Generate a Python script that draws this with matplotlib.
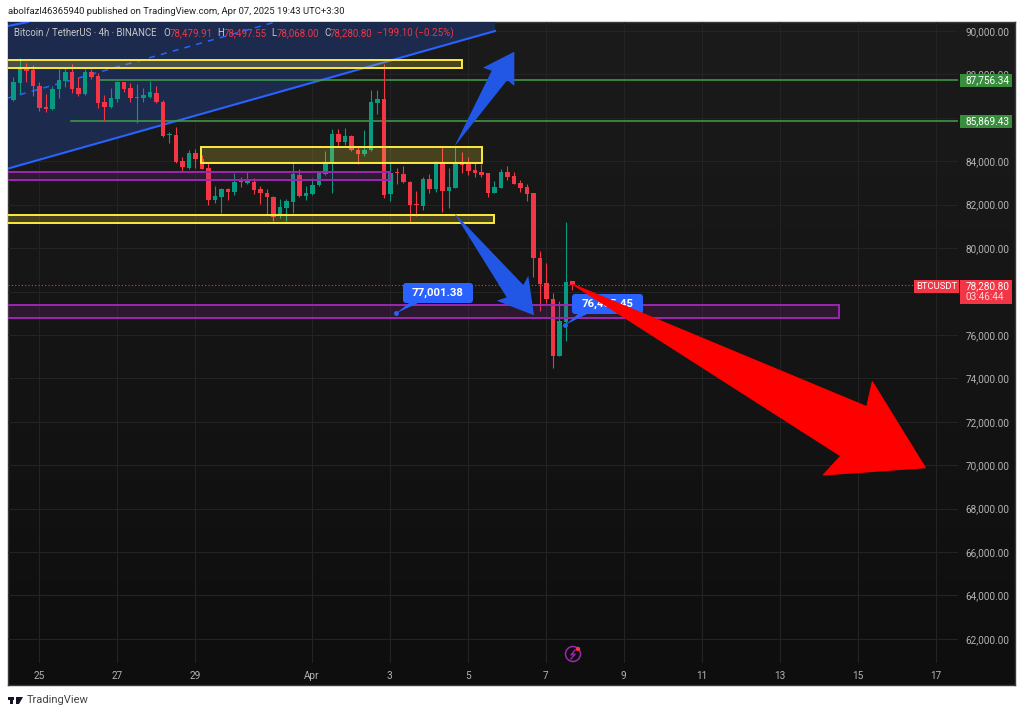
import numpy as np
import matplotlib
matplotlib.use("Agg")
import matplotlib.pyplot as plt
from matplotlib.patches import Rectangle, Polygon, FancyBboxPatch, Circle
from matplotlib.transforms import Affine2D

# 4h candles
opens = [86823, 87621, 88327, 88205, 87483, 86485, 86393, 87314, 87683, 88112, 87376, 87084,
         88112, 87928, 86716, 86501, 86854, 87636, 87376, 86915, 86900, 86976, 87161, 86746,
         85196, 85211, 84014, 83707, 84382, 84121, 83692, 82218, 82341, 82740, 82587, 83093,
         83001, 83032, 82709, 82525, 82371, 81496, 81864, 82141, 83369, 82402, 82494, 82893,
         83399, 83906, 85257, 84904, 85149, 84520, 84351, 84520, 86700, 86853, 82478, 83507,
         83415, 83062, 82033, 81956, 83169, 82739, 83983, 82647, 82770, 83983, 83875, 83599,
         83507, 83446, 82555, 82785, 83507, 83322, 83000, 82831, 82524, 79561, 78394, 77657,
         75033, 76614, 78479.91]
highs = [87897, 88772, 88512, 88435, 87667, 87099, 87483, 88235, 88281, 88481, 87867, 88235,
         88235, 88051, 87053, 87360, 87713, 87667, 87590, 87544, 87391, 87713, 87468, 86823,
         85365, 85564, 84183, 84520, 84551, 84290, 83906, 82863, 82755, 82786, 83477, 83262,
         83492, 83231, 82878, 82740, 82417, 82263, 82263, 83906, 83645, 82862, 83215, 83568,
         84474, 85487, 85472, 85548, 85211, 84704, 85441, 87283, 87283, 88465, 83983, 83706,
         83783, 83092, 82632, 83292, 83399, 84014, 84704, 83676, 84674, 84413, 84213, 83906,
         83860, 83476, 83092, 83630, 83798, 83492, 83139, 82954, 82524, 79868, 79300, 77949,
         77565, 81188, 78497.55]
lows = [86777, 87099, 87652, 87007, 86316, 86286, 86363, 86900, 87437, 87130, 87007, 87038,
        87775, 86439, 85856, 86439, 86746, 87207, 86746, 85779, 86746, 86900, 86670, 85135,
        84828, 83906, 83553, 83661, 83676, 83630, 81972, 82065, 81635, 82218, 82448, 82832,
        82955, 82494, 82018, 81527, 81250, 81373, 81250, 81634, 82371, 82218, 82448, 82862,
        83369, 82525, 84704, 84750, 84474, 83875, 84244, 84474, 86178, 82325, 82171, 82954,
        82985, 81174, 81496, 81757, 82555, 82601, 81650, 81834, 82755, 83476, 83369, 83261,
        83292, 82340, 82525, 82755, 83139, 82939, 82601, 82187, 78655, 77120, 77458, 74465,
        75033, 75739, 78068.00]
closes = [87667, 88327, 88174, 87468, 86455, 86393, 87329, 87744, 88128, 87345, 87084, 88128,
          87867, 86670, 86501, 86900, 87636, 87314, 86930, 86946, 87053, 87191, 86731, 85150,
          85227, 83952, 83738, 84382, 84121, 83661, 82218, 82387, 82724, 82602, 83062, 83032,
          83108, 82678, 82525, 82341, 81450, 81895, 82171, 83399, 82417, 82525, 82924, 83446,
          83906, 85257, 84904, 85149, 84520, 84351, 84520, 86715, 86853, 82448, 83461, 83446,
          83031, 81987, 81972, 83169, 82739, 83983, 82647, 82801, 83983, 83829, 83568, 83476,
          83369, 82555, 82816, 83507, 83277, 82954, 82770, 82494, 79530, 78348, 77642, 75033,
          76644, 78440, 78280.80]

date_ticks = [4, 16, 28, 46, 58, 70, 82, 94, 106, 118, 130, 142]
date_labels = ['25', '27', '29', 'Apr', '3', '5', '7', '9', '11', '13', '15', '17']
price_ticks = list(range(62000, 92000, 2000))

# drawings on the chart, bar number / price
channel_x = [-1.5, 74.2, 74.2, -1.5]
channel_y = [83598, 90000, 90500, 90500]
channel_mid_x = [-0.72, 40.4]
channel_mid_y = [86914, 90415]
channel_top_x = [-0.72, 2.35]
channel_top_y = [90230, 90415]
yellow_boxes = [(-1.5, 69.1, 88296, 88664), (29.0, 72.2, 83907, 84671), (-1.5, 74.1, 81134, 81525)]
purple_boxes = [(-1.5, 58.0, 83115, 83483), (-1.5, 127.1, 76781, 77380)]
green_levels = [87756.34, 85869.43]
green_starts = [13.4, 9.0]
last_price = 78280.80
up_arrow_x = [67.94, 73.69, 72.35, 77.17, 77.17, 76.09]
up_arrow_y = [84671, 88171, 88310, 89047, 87467, 87743]
down_arrow_x = [67.89, 78.55, 79.32, 80.2, 74.46, 76.0]
down_arrow_y = [81631, 78301, 78729, 76906, 77578, 77734]
red_arrow_x = [86.05, 131.4, 132.25, 140.4, 124.7, 127.4]
red_arrow_y = [78347, 72695, 73848, 69886, 69550, 70425]

UP = '#089981'
DOWN = '#f23645'
BLUE = '#2962ff'
FONT = 'Roboto'

plt.rcParams['font.family'] = FONT
W, H = 1024, 714
fig = plt.figure(figsize=(W / 100, H / 100), dpi=100, facecolor='white')
# pixel coordinates, origin top left
px = Affine2D().scale(1, -1).translate(0, H)


def rect(x0, y0, x1, y1):
    return [x0 / W, 1 - y1 / H, (x1 - x0) / W, (y1 - y0) / H]


# dark pane with the vertical gradient
bg = fig.add_axes(rect(8, 22, 1015, 685))
bg.imshow(np.linspace(0, 1, 64).reshape(-1, 1), aspect='auto', cmap=matplotlib.colors.LinearSegmentedColormap.from_list('pane', ['#1b1b1b', '#0e0e0e']))
bg.set_xticks([])
bg.set_yticks([])
for s in bg.spines.values():
    s.set_color('#3a3a3a')
    s.set_linewidth(1)

ax = fig.add_axes(rect(8, 22, 958, 663), facecolor='none')
ax.set_xlim(-0.723, 145.43)
ax.set_ylim(60890, 90415)
ax.set_axisbelow(True)
for s in ax.spines.values():
    s.set_visible(False)
ax.yaxis.tick_right()
ax.set_xticks(date_ticks, date_labels)
ax.set_yticks(price_ticks, [f'{p:,.2f}' for p in price_ticks])
ax.tick_params(axis='both', length=0, labelcolor='#b4b4b4', labelsize=7.2)
ax.tick_params(axis='y', pad=5.5)
ax.tick_params(axis='x', pad=6)
ax.grid(True, color='#232323', linewidth=0.8)

# channel
ax.add_patch(Polygon(list(zip(channel_x, channel_y)), closed=True, fc='#1c2a4e', ec='none', zorder=1))
ax.plot(channel_x[:2], channel_y[:2], color=BLUE, lw=1.5, zorder=2)
ax.plot(channel_top_x, channel_top_y, color=BLUE, lw=1.5, zorder=2)
ax.plot(channel_mid_x, channel_mid_y, color=BLUE, lw=1.1, ls=(0, (4, 4)), zorder=2)

for lvl, start in zip(green_levels, green_starts):
    ax.plot([start, 145.43], [lvl, lvl], color='#43a047', lw=1.1, zorder=2)
ax.axhline(last_price, color=DOWN, lw=0.8, ls=(0, (1, 2)), zorder=2)

# candles
bars = np.arange(len(opens)) + 0.1
o = np.array(opens)
c = np.array(closes)
colors = [UP if b else DOWN for b in c >= o]
ax.vlines(bars, lows, highs, colors=colors, lw=0.8, zorder=3)
ax.bar(bars, np.maximum(np.abs(c - o), 40), bottom=np.minimum(o, c), width=0.68, color=colors, zorder=4)

# zones
for x0, x1, y0, y1 in yellow_boxes:
    ax.add_patch(Rectangle((x0, y0), x1 - x0, y1 - y0, fc=(1, 0.92, 0.23, 0.2), ec='#ffeb3b', lw=1.4, zorder=5))
for x0, x1, y0, y1 in purple_boxes:
    ax.add_patch(Rectangle((x0, y0), x1 - x0, y1 - y0, fc=(0.61, 0.15, 0.69, 0.18), ec='#9c27b0', lw=1.4, zorder=5))


# blue price callouts
def callout(text, bar, price, x0, y0, x1, y1):
    ax.add_patch(FancyBboxPatch((x0 + 2, y0 + 2), x1 - x0 - 4, y1 - y0 - 4, boxstyle='round,pad=2,rounding_size=3',
                                fc=BLUE, ec='none', transform=px, clip_on=False, zorder=6))
    tip = px.inverted().transform(ax.transData.transform((bar, price)))
    ax.add_patch(Polygon([tip, (x0 + 6, y1), (x0 + 15, y1)], closed=True, fc=BLUE, ec='none', transform=px, zorder=6))
    ax.plot(bar, price, 'o', color=BLUE, ms=2.5, zorder=6)
    ax.text((x0 + x1) / 2, (y0 + y1) / 2, text, transform=px, color='white', fontsize=8.2, fontweight='bold',
            ha='center', va='center', zorder=7)


callout('77,001.38', 59, 77001.38, 403, 283, 473, 303)
callout('76,465.45', 85, 76465.45, 572, 294, 643, 314)

# big arrows
ax.add_patch(Polygon(list(zip(up_arrow_x, up_arrow_y)), closed=True, fc='#2257e6', ec='none', zorder=8))
ax.add_patch(Polygon(list(zip(down_arrow_x, down_arrow_y)), closed=True, fc='#2257e6', ec='none', zorder=8))
ax.add_patch(Polygon(list(zip(red_arrow_x, red_arrow_y)), closed=True, fc='#ff0000', ec='#ff0000', lw=0.8, joinstyle='round', zorder=8))


# right hand price labels
def tag(y0, y1, x0, x1, color):
    ax.add_patch(Rectangle((x0, y0), x1 - x0, y1 - y0, fc=color, ec='none', transform=px, clip_on=False, zorder=9))


def label(x, y, text, color='white', size=7.2, ha='left', **kw):
    ax.text(x, y, text, transform=px, color=color, fontsize=size, ha=ha, va='center', clip_on=False, zorder=10, **kw)


tag(74, 87, 960, 1012, '#388e3c')
label(966, 80.5, '87,756.34')
tag(115, 128, 960, 1012, '#388e3c')
label(966, 121.5, '85,869.43')
tag(280, 293, 914, 959, DOWN)
label(936.5, 286.5, 'BTCUSDT', size=6.8, ha='center')
tag(280, 304, 960, 1012, DOWN)
label(966, 286.5, '78,280.80')
label(966, 297.5, '03:46:44', color='#ffd6da')

# legend line
legend_y = 33
label(14, legend_y, 'Bitcoin / TetherUS · 4h · BINANCE', color='#c8c8c8', size=6.9)
for x, text, col in [(163, 'O', '#c8c8c8'), (170, '78,479.91', DOWN), (217, 'H', '#c8c8c8'), (224, '78,497.55', DOWN),
                     (271, 'L', '#c8c8c8'), (277, '78,068.00', DOWN), (324, 'C', '#c8c8c8'), (330, '78,280.80', DOWN),
                     (377, '\u2212199.10 (\u22120.25%)', DOWN)]:
    label(x, legend_y, text, color=col, size=7.0)

# lightning badge
ax.add_patch(Circle((573, 654), 7.5, fc='none', ec='#9c27b0', lw=1.1, transform=px, clip_on=False, zorder=9))
ax.plot([575, 571, 575, 571], [650, 655, 654, 659], color='#9c27b0', lw=1, transform=px, clip_on=False, zorder=9)
ax.add_patch(Circle((578, 649), 2.2, fc=DOWN, ec='none', transform=px, clip_on=False, zorder=10))

# text outside the pane
fig.text(8 / W, 1 - 11 / H, 'abolfazl46365940 published on TradingView.com, Apr 07, 2025 19:43 UTC+3:30', color='#222222',
         fontsize=6.8, va='center')
fig.text(27 / W, 1 - 700 / H, 'TradingView', color='#444444', fontsize=8, va='center')
fig.patches.append(Rectangle((8, 697), 6, 2.5, fc='#131722', transform=px))
fig.patches.append(Rectangle((10, 697), 2.5, 7, fc='#131722', transform=px))
fig.patches.append(Polygon([(16, 697), (23, 697), (19, 704), (16, 704)], closed=True, fc='#131722', transform=px))

fig.savefig('out.png', dpi=100)
